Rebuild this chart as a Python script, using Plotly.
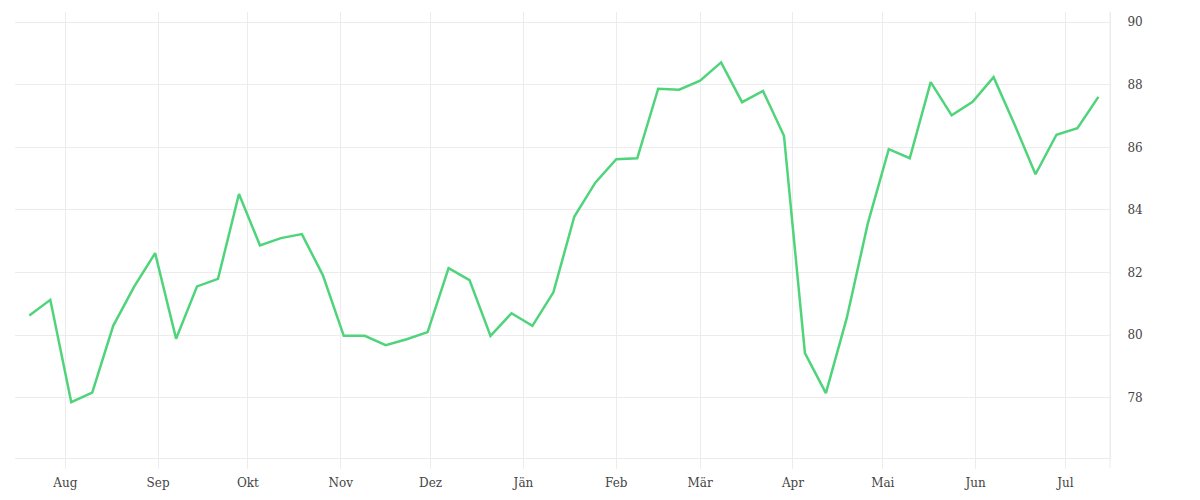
import plotly.graph_objects as go

dates = [
    "2022-07-20", "2022-07-27", "2022-08-03", "2022-08-10", "2022-08-17", "2022-08-24",
    "2022-08-31", "2022-09-07", "2022-09-14", "2022-09-21", "2022-09-28", "2022-10-05",
    "2022-10-12", "2022-10-19", "2022-10-26", "2022-11-02", "2022-11-09", "2022-11-16",
    "2022-11-23", "2022-11-30", "2022-12-07", "2022-12-14", "2022-12-21", "2022-12-28",
    "2023-01-04", "2023-01-11", "2023-01-18", "2023-01-25", "2023-02-01", "2023-02-08",
    "2023-02-15", "2023-02-22", "2023-03-01", "2023-03-08", "2023-03-15", "2023-03-22",
    "2023-03-29", "2023-04-05", "2023-04-12", "2023-04-19", "2023-04-26", "2023-05-03",
    "2023-05-10", "2023-05-17", "2023-05-24", "2023-05-31", "2023-06-07", "2023-06-14",
    "2023-06-21", "2023-06-28", "2023-07-05", "2023-07-12",
]

values = [
    80.63, 81.13, 77.86, 78.17, 80.30, 81.55, 82.62, 79.89, 81.56, 81.80,
    84.51, 82.87, 83.10, 83.23, 81.92, 79.98, 79.98, 79.68, 79.87, 80.10,
    82.14, 81.76, 79.98, 80.70, 80.30, 81.37, 83.79, 84.87, 85.62, 85.65,
    87.87, 87.84, 88.13, 88.71, 87.44, 87.80, 86.37, 79.43, 78.15, 80.56,
    83.57, 85.94, 85.65, 88.08, 87.02, 87.45, 88.24, 86.73, 85.14, 86.40,
    86.61, 87.61,
]

month_ticks = [
    "2022-08-01", "2022-09-01", "2022-10-01", "2022-11-01", "2022-12-01", "2023-01-01",
    "2023-02-01", "2023-03-01", "2023-04-01", "2023-05-01", "2023-06-01", "2023-07-01",
]
month_labels = ["Aug", "Sep", "Okt", "Nov", "Dez", "Jän", "Feb", "Mär", "Apr", "Mai", "Jun", "Jul"]

y_ticks = [78, 80, 82, 84, 86, 88, 90]

GRID = "#ececec"
FONT = dict(family="DejaVu Serif", size=12, color="#444444")

fig = go.Figure()
fig.add_trace(go.Scatter(
    x=dates, y=values, mode="lines",
    line=dict(color="#4fd47b", width=2.5),
    showlegend=False,
))

fig.update_layout(
    width=1200, height=500,
    margin=dict(l=7, r=98, t=4, b=50),
    paper_bgcolor="white", plot_bgcolor="white",
    font=FONT,
    xaxis=dict(
        type="date",
        range=["2022-07-15 05:00", "2023-07-15 21:00"],
        tickvals=month_ticks, ticktext=month_labels,
        showgrid=True, gridcolor=GRID, gridwidth=1,
        ticks="outside", ticklen=10, tickcolor=GRID,
        ticklabelstandoff=4,
        showline=True, linecolor=GRID, linewidth=1,
        zeroline=False, tickfont=FONT,
    ),
    yaxis=dict(
        side="right",
        range=[76.08, 90.32],
        tickvals=y_ticks,
        showgrid=True, gridcolor=GRID, gridwidth=1,
        showline=True, linecolor=GRID, linewidth=1,
        zeroline=False, ticks="", ticklabelstandoff=14, tickfont=FONT,
    ),
)

fig.add_shape(type="line", xref="paper", yref="paper",
              x0=1, x1=1, y0=-10 / 446, y1=1,
              line=dict(color=GRID, width=1), layer="below")

fig.write_html("out.html")
